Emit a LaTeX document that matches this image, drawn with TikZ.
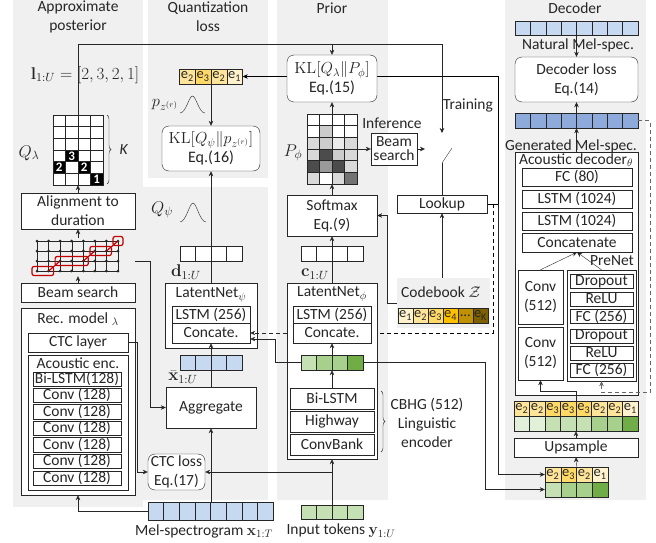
\RequirePackage{fix-cm}
\documentclass[tikz,border=0pt]{standalone}
\usepackage[no-math]{fontspec}
\setmainfont{Carlito}
\usetikzlibrary{arrows.meta,decorations.pathreplacing}
\pgfdeclarelayer{panels}
\pgfdeclarelayer{wires}
\pgfsetlayers{panels,wires,main}
\definecolor{panelgray}{HTML}{F0F0F0}
\definecolor{melblue}{HTML}{C6D9F0}
\definecolor{genblue}{HTML}{8EAADB}
\definecolor{tokA}{HTML}{E2EFD9}
\definecolor{tokB}{HTML}{C5E0B3}
\definecolor{tokC}{HTML}{A8D08D}
\definecolor{tokD}{HTML}{70AD47}
\definecolor{codeA}{HTML}{FFF2CC}
\definecolor{codeB}{HTML}{FFE599}
\definecolor{codeC}{HTML}{FFD966}
\definecolor{codeD}{HTML}{FFC000}
\definecolor{codeE}{HTML}{BF9000}
\definecolor{codeF}{HTML}{7F6000}
\definecolor{alignred}{HTML}{C00000}
\begin{document}
\begin{tikzpicture}[x=1pt,y=-1pt,line width=0.7pt,color=black!85,
    font=\fontsize{15.5}{19}\selectfont,
    >={Stealth[length=5pt,width=4.5pt]},
    box/.style={draw,fill=white,inner sep=0pt,align=center},
    loss/.style={box,rounded corners=7pt},
    lbl/.style={inner sep=0pt,align=center},
    mathlbl/.style={inner sep=0pt,font=\fontsize{17}{17}\selectfont},
    bar/.style={draw,inner sep=0pt,minimum height=15},
    cell/.style={draw,inner sep=0pt,minimum width=#1,minimum height=15,font=\fontsize{14.5}{14}\selectfont},
    cell/.default=15.5]
  \useasboundingbox (0,0) rectangle (656,543);
  \begin{pgfonlayer}{panels}
    \fill[panelgray] (13,0) rectangle (143,507);
    \fill[panelgray] (143,187) rectangle (268,500);
    \fill[panelgray] (148,0) rectangle (268,178);
    \fill[panelgray] (277,0) rectangle (388,500);
    \fill[panelgray] (505,0) rectangle (646,500);
  \end{pgfonlayer}

  \node[lbl] (tApp) at (78,17) {Approximate\\posterior};
  \node[lbl] (tQnt) at (208,17) {Quantization\\loss};
  \node[lbl] (tPri) at (332,8) {Prior};
  \node[lbl] (tDec) at (575,8) {Decoder};

  % approximate posterior
  \node[mathlbl] (lDur) at (85,75) {$\mathbf{l}_{1:U}=[2,3,2,1]$};
  \fill[white] (53,115) rectangle (103,185);
  \foreach \c/\r/\n in {1/3/3,0/4/2,2/4/2,3/5/1}
    \node[fill=black,text=white,inner sep=0pt,minimum width=12.5,minimum height=11.67,
      font=\fontsize{13}{13}\selectfont\bfseries] at ({59.25+12.5*\c},{120.83+70/6*\r}) {\n};
  \foreach \c in {1,2,3} \draw ({53+12.5*\c},115) -- ++(0,70);
  \foreach \r in {1,...,5} \draw (53,{115+70/6*\r}) -- ++(50,0);
  \node[draw,inner sep=0pt,minimum width=50,minimum height=70] (qgrid) at (78,150) {};
  \draw[decorate,decoration={brace,amplitude=4pt}] (107,115) -- (107,184);
  \node[lbl] (kLbl) at (124,150) {\textit{K}};
  \node[mathlbl] (qLam) at (29,153) {$Q_\lambda$};
  \node[box,minimum width=114,minimum height=36] (aln) at (78,211) {Alignment to\\duration};
  \node[inner sep=0pt,minimum width=92,minimum height=38] (lat) at (78,257) {};
  \foreach \j in {0,...,3} \draw (37,{241+10*\j}) -- (118,{241+10*\j});
  \foreach \i in {0,...,7} \draw ({37+81/7*\i},241) -- ++(0,30);
  \foreach \i in {0,...,7} \foreach \j in {0,...,3} \fill ({37+81/7*\i},{241+10*\j}) circle (1.5);
  \draw[alignred,line width=1.2pt] (48.57,271) -- (60.14,261) (83.29,261) -- (94.86,251) (106.43,251) -- (118,241);
  \draw[alignred,line width=1.2pt,rounded corners=2pt]
    (32,266.5) rectangle (53.6,275.5) (55.1,256.5) rectangle (88.3,265.5)
    (89.9,246.5) rectangle (111.4,255.5) (113,236.5) rectangle (123,245.5);
  \coordinate (latOut) at (135,261);
  \node[box,minimum width=114,minimum height=19] (bsL) at (78,292.5) {Beam search};
  \node[box,minimum width=114,minimum height=187] (rec) at (78,401.5) {};
  \node[lbl] (recLbl) at (78,319) {Rec. model $_\lambda$};
  \node[box,minimum width=100,minimum height=19] (ctcL) at (78,342.5) {CTC layer};
  \node[box,minimum width=100,minimum height=135] (ae) at (78,422.5) {};
  \node[lbl] (aeLbl) at (78,363) {Acoustic enc.};
  \node[box,minimum width=88,minimum height=14] (aeLstm) at (77,379) {Bi-LSTM(128)};
  \foreach \k in {0,...,5}
    \node[box,minimum width=88,minimum height=14.5] (aeConv\k) at (77,{395+16.6*\k}) {Conv (128)};

  % quantization loss
  \foreach \f/\t [count=\i from 0] in {codeB/2,codeC/3,codeB/2,codeA/1}
    \node[cell=15.75,fill=\f] at ({187.375+15.75*\i},76.5) {e\textsubscript{\t}};
  \node[bar,minimum width=63] (eTop) at (211,76.5) {};
  \node[mathlbl,font=\fontsize{16.5}{16}\selectfont] (pz) at (165,105) {$p_{z^{(r)}}$};
  \draw (180,113) .. controls (186,113) and (189,96) .. (192.5,96) .. controls (196,96) and (199,113) .. (205,113);
  \node[loss,minimum width=98,minimum height=45,font=\fontsize{16}{19}\selectfont] (klQ) at (211,148.5) {$\mathrm{KL}[Q_\psi\|p_{z^{(r)}}]$\\Eq.(16)};
  \node[mathlbl] (qPsi) at (162,210) {$Q_\psi$};
  \draw (180,222) .. controls (186,222) and (189.5,203) .. (193,203) .. controls (196.5,203) and (200,222) .. (206,222);
  \foreach \i in {0,...,3} \node[cell,fill=white] at ({187.75+15.5*\i},253.5) {};
  \node[bar,minimum width=62] (dBar) at (211,253.5) {};
  \node[mathlbl] (dLbl) at (186,272) {$\mathbf{d}_{1:U}$};
  \node[box,minimum width=92,minimum height=65] (lnPsi) at (211,315.5) {};
  \node[lbl] (lnPsiLbl) at (211,295) {LatentNet$_\psi$};
  \node[box,minimum width=78,minimum height=17] (lstmPsi) at (211,314.5) {LSTM (256)};
  \node[box,minimum width=78,minimum height=20] (ccPsi) at (211,333) {Concate.};
  \foreach \i in {0,...,3} \node[cell,fill=melblue] at ({187.75+15.5*\i},362.5) {};
  \node[bar,minimum width=62] (xBar) at (211,362.5) {};
  \node[mathlbl] (xLbl) at (183,377) {$\bar{\mathbf{x}}_{1:U}$};
  \node[box,minimum width=90,minimum height=41] (agg) at (211,407.5) {Aggregate};
  \node[loss,minimum width=57,minimum height=36] (ctc) at (176.5,472) {CTC loss\\Eq.(17)};
  \foreach \i in {0,...,7} \node[cell=15.625,minimum height=18,fill=melblue] at ({155.8+15.625*\i},511) {};
  \node[bar,minimum width=125,minimum height=18] (mel) at (210.5,511) {};
  \node[lbl] (melLbl) at (204,531) {Mel-spectrogram $\mathbf{x}_{1:T}$};

  % prior
  \node[loss,minimum width=90,minimum height=47,font=\fontsize{16}{19}\selectfont] (klP) at (332,78.5) {$\mathrm{KL}[Q_\lambda\|P_\phi]$\\Eq.(15)};
  \foreach \r/\row in {0/{0,0,0,0},1/{0,20,0,0},2/{15,20,8,15},3/{15,70,20,15},4/{70,40,70,15},5/{15,0,15,55}}
    \foreach \v [count=\c from 0] in \row
      \fill[black!\v] ({307+12.5*\c},{114+70/6*\r}) rectangle ++(12.5,{70/6});
  \foreach \c in {1,2,3} \draw ({307+12.5*\c},114) -- ++(0,70);
  \foreach \r in {1,...,5} \draw (307,{114+70/6*\r}) -- ++(50,0);
  \node[draw,inner sep=0pt,minimum width=50,minimum height=70] (pgrid) at (332,149) {};
  \node[mathlbl] (pPhi) at (293,153) {$P_\phi$};
  \node[lbl] (infLbl) at (392,123) {Inference};
  \node[box,minimum width=46,minimum height=32,font=\fontsize{15.5}{14}\selectfont] (bsR) at (394,149) {Beam\\search};
  \node[box,minimum width=90,minimum height=41] (soft) at (332,215.5) {Softmax\\Eq.(9)};
  \foreach \i in {0,...,3} \node[cell,fill=white] at ({308.75+15.5*\i},253.5) {};
  \node[bar,minimum width=62] (cBar) at (332,253.5) {};
  \node[mathlbl] (cLbl) at (315,274) {$\mathbf{c}_{1:U}$};
  \node[box,minimum width=90,minimum height=176] (lnPhi) at (332,371) {};
  \node[lbl] (lnPhiLbl) at (332,294) {LatentNet$_\phi$};
  \node[box,minimum width=78,minimum height=17] (lstmPhi) at (332,314.5) {LSTM (256)};
  \node[box,minimum width=78,minimum height=20] (ccPhi) at (332,333) {Concate.};
  \foreach \f [count=\i from 0] in {tokB,tokC,tokC,tokD}
    \node[cell,fill=\f] at ({308.75+15.5*\i},362.5) {};
  \node[bar,minimum width=62] (gTok) at (332,362.5) {};
  \node[box,minimum width=84,minimum height=21] (cbLstm) at (332,398.5) {Bi-LSTM};
  \node[box,minimum width=84,minimum height=21] (cbHwy) at (332,421.5) {Highway};
  \node[box,minimum width=84,minimum height=21] (cbConv) at (332,444.5) {ConvBank};
  \draw[decorate,decoration={brace,amplitude=4pt}] (381,391) -- (381,452);
  \node[lbl] (cbhgLbl) at (427,423) {CBHG (512)\\Linguistic\\encoder};
  \foreach \i in {0,...,3} \node[cell,minimum height=14,fill=tokB] at ({308.75+15.5*\i},512.5) {};
  \node[bar,minimum width=62,minimum height=14] (tok) at (332,512.5) {};
  \node[lbl] (tokLbl) at (341,531) {Input tokens $\mathbf{y}_{1:U}$};

  % codebook and lookup
  \node[lbl] (trnLbl) at (468,105) {Training};
  \coordinate (swT) at (442,133);
  \coordinate (swB) at (442,163);
  \coordinate (swL) at (425,149);
  \node[box,minimum width=90,minimum height=18] (lkp) at (442,204) {Lookup};
  \coordinate (lkJ) at (498,204);
  \coordinate (lkD) at (493,204);
  \node[fill=panelgray,inner sep=0pt,minimum width=93,minimum height=50] (cbk) at (443.5,303) {};
  \node[lbl] (cbkLbl) at (441,292) {Codebook $\mathcal{Z}$};
  \foreach \f/\t [count=\i from 0] in {codeA/e\textsubscript{1},codeB/e\textsubscript{2},codeC/e\textsubscript{3},codeD/e\textsubscript{4},codeE/\ldots,codeF/e\textsubscript{K}}
    \node[cell=15,fill=\f] at ({405.5+15*\i},315.5) {\t};
  \node[bar,minimum width=90] (cbBar) at (443,315.5) {};

  % decoder
  \foreach \i in {0,...,7} \node[cell=15.375,minimum height=14,fill=melblue] at ({522.7+15.375*\i},28) {};
  \node[bar,minimum width=123,minimum height=14] (nat) at (576.5,28) {};
  \node[loss,minimum width=123,minimum height=45] (dLoss) at (576.5,79.5) {Decoder loss\\Eq.(14)};
  \foreach \i in {0,...,7} \node[cell=15.375,fill=genblue] at ({522.7+15.375*\i},120.5) {};
  \node[bar,minimum width=123] (gen) at (576.5,120.5) {};
  \node[box,minimum width=123,minimum height=243] (adec) at (576.5,273.5) {};
  \node[lbl] (adecLbl) at (576,160) {Acoustic decoder$_\theta$};
  \node[box,minimum width=110,minimum height=18] (fc80) at (577,177) {FC (80)};
  \node[box,minimum width=110,minimum height=18] (lstmA) at (577,199) {LSTM (1024)};
  \node[box,minimum width=110,minimum height=18] (lstmB) at (577,221) {LSTM (1024)};
  \node[box,minimum width=110,minimum height=19] (cat) at (577,242.5) {Concatenate};
  \node[box,minimum width=45,minimum height=54] (conv1) at (540.5,297) {Conv\\(512)};
  \node[box,minimum width=45,minimum height=53] (conv2) at (540.5,353.5) {Conv\\(512)};
  \node[box,minimum width=69,minimum height=111] (pn) at (601.5,325.5) {};
  \node[lbl] (pnLbl) at (612,261) {PreNet};
  \node[box,minimum width=63,minimum height=14] (pnDropA) at (601.5,281.5) {Dropout};
  \node[box,minimum width=63,minimum height=14] (pnReluA) at (601.5,299) {ReLU};
  \node[box,minimum width=63,minimum height=14] (pnFcA) at (601.5,316.5) {FC (256)};
  \node[box,minimum width=63,minimum height=14] (pnDropB) at (601.5,336) {Dropout};
  \node[box,minimum width=63,minimum height=14] (pnReluB) at (601.5,353) {ReLU};
  \node[box,minimum width=63,minimum height=14] (pnFcB) at (601.5,370) {FC (256)};
  \foreach \f/\t [count=\i from 0] in {codeB/2,codeB/2,codeC/3,codeC/3,codeC/3,codeB/2,codeB/2,codeA/1}
    \node[cell,fill=\f] at ({521.75+15.5*\i},408.5) {e\textsubscript{\t}};
  \foreach \f [count=\i from 0] in {tokA,tokA,tokB,tokB,tokB,tokC,tokC,tokD}
    \node[cell,fill=\f] at ({521.75+15.5*\i},423.5) {};
  \node[bar,minimum width=124,minimum height=30] (up8) at (576,416) {};
  \node[box,minimum width=124,minimum height=19] (ups) at (576,447.5) {Upsample};
  \foreach \f/\t [count=\i from 0] in {codeB/2,codeC/3,codeB/2,codeA/1}
    \node[cell=15.75,fill=\f] at ({552.875+15.75*\i},474.5) {e\textsubscript{\t}};
  \foreach \f [count=\i from 0] in {tokB,tokC,tokC,tokD}
    \node[cell=15.75,fill=\f] at ({552.875+15.75*\i},489.5) {};
  \node[bar,minimum width=63,minimum height=30] (sm4) at (576.5,482) {};
  \node[lbl] (natLbl) at (578,45) {Natural Mel-spec.};
  \node[lbl] (genLbl) at (571,146) {Generated Mel-spec.};

  \begin{pgfonlayer}{wires}
    \draw[->] (lkp.east) -- (lkJ) |- (eTop.east);
    \draw[dashed,dash pattern=on 4pt off 3pt,->] (lkD) |- (ccPhi.east);
  \end{pgfonlayer}
  \begin{scope}[->]
    \draw (qgrid.north) |- (442,44) -- (swT);
    \draw (332,44) -- (klP.north);
    \draw (aln.north) -- (qgrid.south);
    \draw (lat.north) -- (aln.south);
    \draw (bsL.north) -- (lat.south);
    \draw (latOut) -- ++(15,0) |- (agg.west);
    \draw (ctcL.east) -- ++(9,0) |- (ctc.west);
    \draw (mel.west) -| (rec.south);
    \draw (agg.south |- mel.north) -- (agg.south);
    \draw (agg.north) -- (ccPsi.south);
    \draw (lnPsi.north) -- (klQ.south);
    \draw (eTop.south) -- (klQ.north);
    \draw[dashed,dash pattern=on 4pt off 3pt] (ccPsi.east -| lnPhi.west) -- (ccPsi.east);
    \draw (gTok.west) -- ++(-26,0) |- ([yshift=-6pt]ccPsi.east);
    \draw (tok.north) -- (lnPhi.south);
    \draw (332,472) -- (ctc.east);
    \draw (cbLstm.north) -- (gTok.south);
    \draw (gTok.north) -- (ccPhi.south);
    \draw (lnPhi.north) -- (soft.south);
    \draw (soft.north) -- (pgrid.south);
    \draw (pgrid.north) -- (klP.south);
    \draw (pgrid.east) -- (bsR.west);
    \draw (bsR.east) -- (swL);
    \draw[-] (swB) -- (lkp.north);
    \draw[-] (swB) -- (452,148);
    \draw (lkp.south |- cbk.north) -- (lkp.south);
    \draw (cbk.west) -- ++(-10,0) |- (soft.east);
    \draw (lkJ) |- ([yshift=7.5pt]sm4.west);
    \draw (gTok.east) -- ++(122,0) |- ([yshift=-7.5pt]sm4.west);
    \draw (sm4.north) -- (ups.south);
    \draw (ups.north) -- (up8.south);
    \draw (up8.north) -- ++(0,-10) -| (conv2.south);
    \draw (conv1.north) -- (cat.south);
    \draw (pn.north) -- (cat.south);
    \draw[dashed,dash pattern=on 4pt off 3pt,black!60] (gen.east) -- ++(12,0) |- ([yshift=-11pt]pn.south) -- (pn.south);
    \draw (adec.north) -- (gen.south);
    \draw (gen.north) -- (dLoss.south);
    \draw (nat.south) -- (dLoss.north);
  \end{scope}
\end{tikzpicture}
\end{document}
